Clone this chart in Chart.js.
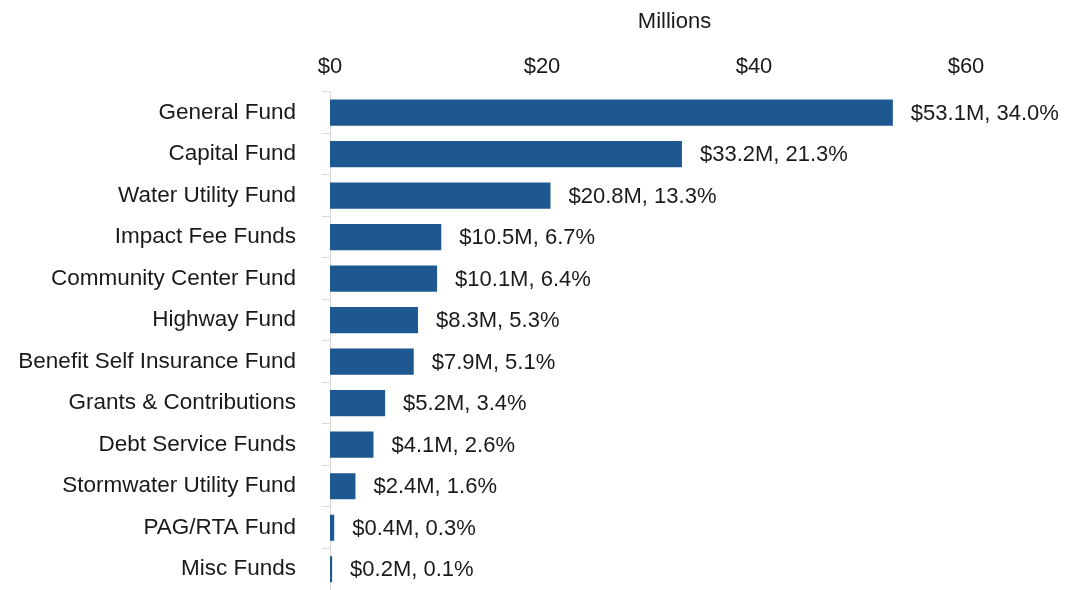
<!DOCTYPE html>
<html>
<head>
<meta charset="utf-8">
<script src="https://cdn.jsdelivr.net/npm/chart.js@4/dist/chart.umd.min.js"></script>
<style>
  html, body { margin: 0; padding: 0; background: #fff; overflow: hidden; }
  canvas { display: block; }
</style>
</head>
<body>
<canvas id="chart" width="1076" height="590"></canvas>
<script>
// fund names, amounts in millions, share of total (%)
var funds = ['General Fund', 'Capital Fund', 'Water Utility Fund', 'Impact Fee Funds',
  'Community Center Fund', 'Highway Fund', 'Benefit Self Insurance Fund',
  'Grants & Contributions', 'Debt Service Funds', 'Stormwater Utility Fund',
  'PAG/RTA Fund', 'Misc Funds'];
var amounts = [53.1, 33.2, 20.8, 10.5, 10.1, 8.3, 7.9, 5.2, 4.1, 2.4, 0.4, 0.2];
var shares = [34.0, 21.3, 13.3, 6.7, 6.4, 5.3, 5.1, 3.4, 2.6, 1.6, 0.3, 0.1];
var xTicks = [0, 20, 40, 60];

var font = "'Liberation Sans', Arial, sans-serif";

// "$53.1M, 34.0%" next to each bar
var barLabels = {
  id: 'barLabels',
  afterDatasetsDraw: function (chart) {
    var ctx = chart.ctx;
    var meta = chart.getDatasetMeta(0);
    ctx.save();
    ctx.font = '22px ' + font;
    ctx.fillStyle = '#1a1a1a';
    ctx.textAlign = 'left';
    ctx.textBaseline = 'middle';
    meta.data.forEach(function (bar, i) {
      var txt = '$' + amounts[i].toFixed(1) + 'M, ' + shares[i].toFixed(1) + '%';
      ctx.fillText(txt, bar.x + 18, bar.y + 1);
    });
    ctx.restore();
  }
};

new Chart(document.getElementById('chart'), {
  type: 'bar',
  data: {
    labels: funds,
    datasets: [{
      data: amounts,
      backgroundColor: '#1e5890',
      borderWidth: 0,
      barPercentage: 0.63,
      categoryPercentage: 1
    }]
  },
  options: {
    indexAxis: 'y',
    responsive: false,
    animation: false,
    layout: { padding: { left: 18, right: 57, top: 9, bottom: 0 } },
    plugins: {
      legend: { display: false },
      tooltip: { enabled: false }
    },
    scales: {
      x: {
        position: 'top',
        min: 0,
        max: 65,
        afterBuildTicks: function (scale) {
          scale.ticks = xTicks.map(function (v) { return { value: v }; });
        },
        grid: { display: false, drawTicks: false },
        border: { display: false },
        ticks: {
          padding: 12,
          color: '#1a1a1a',
          font: { family: font, size: 22 },
          callback: function (v) { return '$' + v; }
        },
        title: {
          display: true,
          text: 'Millions',
          color: '#1a1a1a',
          font: { family: font, size: 22 },
          padding: { top: 0, bottom: 6 }
        }
      },
      y: {
        afterFit: function (scale) {
          scale.width = 312;
          scale.paddingTop = 0;
          scale.paddingBottom = 0;
        },
        grid: { drawOnChartArea: false, color: '#d9d9d9', tickLength: 8 },
        border: { color: '#d9d9d9' },
        ticks: {
          padding: 26,
          color: '#1a1a1a',
          font: { family: font, size: 22.5 }
        }
      }
    }
  },
  plugins: [barLabels]
});
</script>
</body>
</html>
